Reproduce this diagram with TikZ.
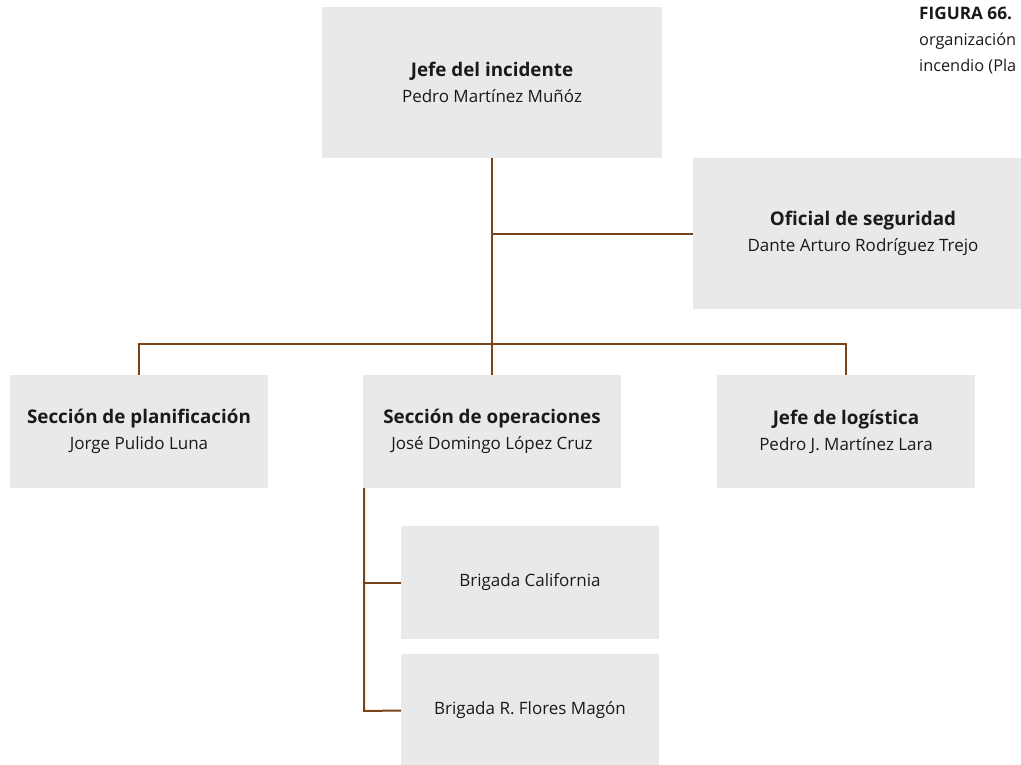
\documentclass[tikz,border=0pt]{standalone}
\usepackage{fontspec}
\setmainfont{Open Sans}
\definecolor{boxgray}{HTML}{E9E9E9}
\definecolor{linebrown}{HTML}{7A4418}
\definecolor{txt}{HTML}{1A1A1A}
\newcommand{\hd}[1]{{\fontsize{18.8}{26}\selectfont\bfseries #1}}
\begin{document}
\begin{tikzpicture}[x=1pt,y=-1pt,
  orgbox/.style={fill=boxgray,draw=none,inner sep=0pt,align=center,text=txt,
     font=\fontsize{17}{26}\selectfont},
  conn/.style={draw=linebrown,line width=2pt}]
\useasboundingbox (0,0) rectangle (1021,765);
\clip (0,0) rectangle (1021,765);
% boxes
\node[orgbox,minimum width=340pt,minimum height=151pt] (jefe) at (492,82.5)
  {\hd{Jefe del incidente}\\Pedro Martínez Muñóz};
\node[orgbox,minimum width=340pt,minimum height=151pt] (ofi) at (863,233.5)
  {\hd{Oficial de seguridad}\\Dante Arturo Rodríguez Trejo};
\node[orgbox,minimum width=258pt,minimum height=113pt] (plan) at (139,431.5)
  {\hd{Sección de planificación}\\Jorge Pulido Luna};
\node[orgbox,minimum width=258pt,minimum height=113pt] (oper) at (492,431.5)
  {\hd{Sección de operaciones}\\José Domingo López Cruz};
\node[orgbox,minimum width=258pt,minimum height=113pt] (log) at (846,431.5)
  {\hd{Jefe de logística}\\Pedro J. Martínez Lara};
\node[orgbox,minimum width=258pt,minimum height=113pt] (cal) at (530,582.5)
  {Brigada California};
\node[orgbox,minimum width=258pt,minimum height=113pt] (flo) at (530,710.5)
  {Brigada R. Flores Magón};
% caption
\node[anchor=north west,inner sep=0pt,align=left,text=txt,
  font=\fontsize{16.3}{26}\selectfont] (cap) at (919,6.7)
  {{\fontsize{17.2}{26}\selectfont\bfseries FIGURA 66.}\\organización\\incendio (Pla};
% connectors
\coordinate (b1) at (492,344);
\draw[conn] (jefe.south) -- (oper.north);
\draw[conn] (ofi.west |- 492,234) -- (492,234);
\draw[conn] (plan.north) |- (b1) -| (log.north);
\coordinate (v1) at (364,711);
\draw[conn] (oper.south west -| v1) -- (v1) -- (flo.west);
\draw[conn] (cal.west) -- (cal.west -| v1);
\end{tikzpicture}
\end{document}
